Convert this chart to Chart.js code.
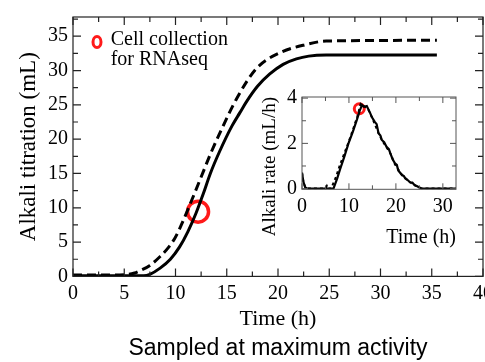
<!DOCTYPE html>
<html>
<head>
<meta charset="utf-8">
<script src="https://cdn.jsdelivr.net/npm/chart.js@4/dist/chart.umd.min.js"></script>
<style>
  html, body { margin: 0; padding: 0; background: #fff; overflow: hidden; }
  #mainBox  { position: absolute; left: 0; top: 0; width: 500px; height: 362px; }
  #insetBox { position: absolute; left: 255px; top: 80px; width: 215px; height: 170px; }
</style>
</head>
<body>
<div id="mainBox"><canvas id="mainChart"></canvas></div>
<div id="insetBox"><canvas id="insetChart"></canvas></div>
<script>
// ── data ───────────────────────────────────────────────────────────────────
const MAIN_T_SOLID  = [0, 3, 6.9, 7.5, 8.5, 9.5, 10.4, 11.2, 12.0, 12.7, 13.4, 14.3, 15.5, 16.3, 16.9, 18.0, 19.2, 20.5, 21.8, 23.0, 24.7, 35.5];
const MAIN_V_SOLID  = [0.1, 0.1, 0.1, 0.3, 1.2, 2.5, 4.3, 6.5, 9.2, 12.0, 15.0, 18.2, 21.9, 23.9, 25.4, 27.7, 29.5, 30.9, 31.7, 32.1, 32.25, 32.25];
const MAIN_T_DASHED = [0, 3, 5.0, 6.0, 6.5, 7.5, 8.5, 9.3, 9.95, 10.6, 11.25, 12.4, 13.4, 14.3, 16.0, 17.9, 20.2, 22.8, 24.7, 35.5];
const MAIN_V_DASHED = [0.2, 0.2, 0.25, 0.5, 0.8, 1.6, 2.9, 4.2, 5.6, 7.6, 9.9, 14.1, 17.8, 20.8, 26.0, 30.3, 32.6, 33.8, 34.3, 34.4];

const RATE_T_SOLID  = [0, 0.3, 0.7, 1.2, 6.7, 7.5, 8.1, 9.0, 9.9, 10.8, 11.7, 12.3, 12.8, 13.2, 13.8, 14.5, 14.9, 15.5, 15.9, 16.3, 16.7, 17.0, 17.5, 18.0, 18.5, 18.8, 19.3, 19.8, 20.2, 20.5, 21.3, 21.7, 22.0, 22.5, 23.0, 23.5, 24.0, 24.4, 24.8, 25.5, 32.8];
const RATE_V_SOLID  = [0.7, 0.3, 0.05, 0, 0, 0.45, 0.85, 1.4, 2.0, 2.5, 3.05, 3.45, 3.7, 3.62, 3.65, 3.35, 3.15, 2.95, 2.85, 2.45, 2.35, 2.15, 2.05, 1.85, 1.75, 1.57, 1.3, 1.12, 1.05, 0.8, 0.6, 0.55, 0.45, 0.38, 0.28, 0.27, 0.15, 0.12, 0.07, 0, 0];
const RATE_T_DASHED = [0, 0.3, 0.7, 1.2, 5.0, 5.3, 5.6, 6.2, 6.6, 7.3, 8.0, 9.0, 10.0, 11.0, 11.8, 12.5, 13.2, 14.0, 14.9, 16.3, 17.0, 18.8, 19.8, 21.3, 23.0, 24.8, 25.5, 32.8];
const RATE_V_DASHED = [0.7, 0.3, 0.05, 0, 0, 0.12, 0, 0, 0.2, 0.55, 1.0, 1.55, 2.1, 2.7, 3.2, 3.75, 3.65, 3.55, 3.15, 2.45, 2.15, 1.57, 1.07, 0.6, 0.28, 0.07, 0, 0];

const SAMPLE_T = 12.2, SAMPLE_V = 9.43;        // circle on the titration curve
const SAMPLE_RATE_T = 12.2, SAMPLE_RATE_V = 3.53;

const MAIN_X_TICKS  = [0, 5, 10, 15, 20, 25, 30, 35, 40];
const MAIN_Y_TICKS  = [0, 5, 10, 15, 20, 25, 30, 35];
const INSET_X_TICKS = [0, 10, 20, 30];
const INSET_Y_TICKS = [0, 2, 4];

const RED = '#ff1a1a';
const SERIF = "'Liberation Serif', 'Times New Roman', serif";

const pts = (ts, vs) => ts.map((t, i) => ({ x: t, y: vs[i] }));

// ── frame + inward tick marks (major on scale ticks, minor at midpoints) ──
const innerTicks = {
  id: 'innerTicks',
  afterDraw(chart, args, o) {
    const { ctx, chartArea: a, scales: { x, y } } = chart;
    ctx.save();
    ctx.strokeStyle = o.color;
    ctx.lineWidth = o.width;
    ctx.strokeRect(a.left, a.top, a.right - a.left, a.bottom - a.top);
    ctx.beginPath();
    const marks = scale => {
      const vals = scale.ticks.map(t => t.value);
      const out = vals.map(v => ({ v, len: o.major }));
      for (let i = 0; i + 1 < vals.length; i++) out.push({ v: (vals[i] + vals[i + 1]) / 2, len: o.minor });
      const step = vals[1] - vals[0];
      const last = vals[vals.length - 1] + step / 2;
      if (last < scale.max) out.push({ v: last, len: o.minor });
      return out;
    };
    marks(x).forEach(m => {
      const px = x.getPixelForValue(m.v);
      ctx.moveTo(px, a.bottom); ctx.lineTo(px, a.bottom - m.len);
      ctx.moveTo(px, a.top);    ctx.lineTo(px, a.top + m.len);
    });
    marks(y).forEach(m => {
      const py = y.getPixelForValue(m.v);
      ctx.moveTo(a.left, py);  ctx.lineTo(a.left + m.len, py);
      ctx.moveTo(a.right, py); ctx.lineTo(a.right - m.len, py);
    });
    ctx.stroke();
    ctx.restore();
  }
};

// ── legend: red ring + two-line label ───────────────────────────────────
const collectionLegend = {
  id: 'collectionLegend',
  afterDraw(chart, args, o) {
    if (!o.lines) return;
    const { ctx } = chart;
    ctx.save();
    ctx.strokeStyle = RED;
    ctx.lineWidth = 3;
    ctx.beginPath();
    ctx.ellipse(o.x, o.y, 4, 5.5, 0, 0, Math.PI * 2);
    ctx.stroke();
    ctx.fillStyle = '#000';
    ctx.font = o.font;
    ctx.textBaseline = 'alphabetic';
    o.lines.forEach((t, i) => ctx.fillText(t, o.textX, o.baseY + i * o.lineGap));
    ctx.restore();
  }
};

Chart.register(innerTicks, collectionLegend);

// ── main chart: alkali titration ────────────────────────────────────────
new Chart(document.getElementById('mainChart'), {
  type: 'line',
  data: {
    datasets: [
      { data: pts(MAIN_T_DASHED, MAIN_V_DASHED), borderColor: '#000', borderWidth: 3, borderDash: [9, 5],
        pointRadius: 0, cubicInterpolationMode: 'monotone', fill: false },
      { data: pts(MAIN_T_SOLID, MAIN_V_SOLID), borderColor: '#000', borderWidth: 3,
        pointRadius: 0, cubicInterpolationMode: 'monotone', fill: false },
      { type: 'scatter', data: [{ x: SAMPLE_T, y: SAMPLE_V }], pointRadius: 10.5, borderWidth: 3.5,
        borderColor: RED, backgroundColor: 'rgba(0,0,0,0)', clip: false }
    ]
  },
  options: {
    responsive: true,
    maintainAspectRatio: false,
    animation: false,
    layout: { padding: { top: 10, right: 17, left: 0, bottom: 0 } },
    plugins: {
      legend: { display: false },
      tooltip: { enabled: false },
      title: {
        display: true, text: 'Sampled at maximum activity', position: 'bottom', fullSize: false,
        color: '#000', font: { family: "'Liberation Sans', Arial, sans-serif", size: 23, weight: 'normal' },
        padding: { top: 2, bottom: 0 }
      },
      innerTicks: { color: '#222', width: 1.2, major: 8, minor: 5 },
      collectionLegend: { x: 97, y: 42, textX: 110.7, baseY: 45, lineGap: 20,
        font: `20px ${SERIF}`, lines: ['Cell collection', 'for RNAseq'] }
    },
    scales: {
      x: {
        type: 'linear', min: 0, max: 40,
        afterBuildTicks: s => { s.ticks = MAIN_X_TICKS.map(v => ({ value: v })); },
        afterFit: s => { s.height = 56; },
        grid: { display: false, drawTicks: false }, border: { display: false },
        ticks: { color: '#000', padding: 5, maxRotation: 0, font: { family: SERIF, size: 20 } },
        title: { display: true, text: 'Time (h)', color: '#000', padding: 0, font: { family: SERIF, size: 22 } }
      },
      y: {
        min: 0, max: 37.8,
        afterBuildTicks: s => { s.ticks = MAIN_Y_TICKS.map(v => ({ value: v })); },
        afterFit: s => { s.width = 73; },
        grid: { display: false, drawTicks: false }, border: { display: false },
        ticks: { color: '#000', padding: 5, font: { family: SERIF, size: 20 } },
        title: { display: true, text: 'Alkali titration (mL)', color: '#000', padding: { top: 15, bottom: 0 },
          font: { family: SERIF, size: 23 } }
      }
    }
  }
});

// ── inset chart: alkali rate ─────────────────────────────────────────────
new Chart(document.getElementById('insetChart'), {
  type: 'line',
  data: {
    datasets: [
      { data: pts(RATE_T_DASHED, RATE_V_DASHED), borderColor: '#000', borderWidth: 2, borderDash: [3, 3],
        pointRadius: 0, tension: 0, fill: false },
      { data: pts(RATE_T_SOLID, RATE_V_SOLID), borderColor: '#000', borderWidth: 2.2,
        pointRadius: 0, tension: 0, fill: false },
      { type: 'scatter', data: [{ x: SAMPLE_RATE_T, y: SAMPLE_RATE_V }], pointRadius: 5, borderWidth: 3,
        borderColor: RED, backgroundColor: 'rgba(0,0,0,0)', clip: false }
    ]
  },
  options: {
    responsive: true,
    maintainAspectRatio: false,
    animation: false,
    layout: { padding: { top: 10, right: 14, left: 0, bottom: 0 } },
    plugins: {
      legend: { display: false },
      tooltip: { enabled: false },
      innerTicks: { color: '#555', width: 1, major: 6, minor: 4 },
      collectionLegend: { lines: null }
    },
    scales: {
      x: {
        type: 'linear', min: 0, max: 32.8,
        afterBuildTicks: s => { s.ticks = INSET_X_TICKS.map(v => ({ value: v })); },
        afterFit: s => { s.height = 60.7; },
        grid: { display: false, drawTicks: false }, border: { display: false },
        ticks: { color: '#000', padding: 5, maxRotation: 0, font: { family: SERIF, size: 20 } },
        title: { display: true, text: 'Time (h)', align: 'end', color: '#000', padding: 0,
          font: { family: SERIF, size: 20 } }
      },
      y: {
        min: -0.03, max: 4.05,
        afterBuildTicks: s => { s.ticks = INSET_Y_TICKS.map(v => ({ value: v })); },
        afterFit: s => { s.width = 47; },
        grid: { display: false, drawTicks: false }, border: { display: false },
        ticks: { color: '#000', padding: 5, font: { family: SERIF, size: 20 } },
        title: { display: true, text: 'Alkali rate (mL/h)', align: 'end', color: '#000',
          padding: { top: 4, bottom: 0 }, font: { family: SERIF, size: 19 } }
      }
    }
  }
});
</script>
</body>
</html>
